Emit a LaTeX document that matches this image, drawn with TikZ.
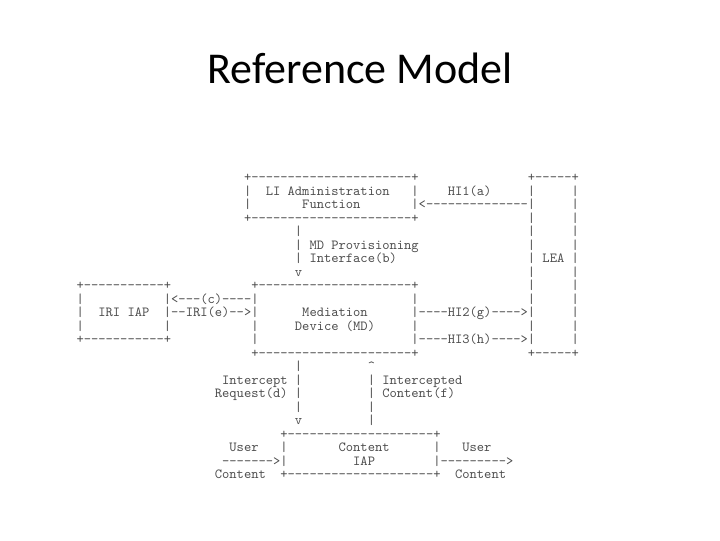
\documentclass[tikz,border=0pt]{standalone}
\usepackage{fontspec}
\setmainfont{Carlito}
\begingroup\obeyspaces%
\gdef\Rzero{                       +----------------------+               +-----+}%
\gdef\Rone{                       |  LI Administration   |    HI1(a)     |     |}%
\gdef\Rtwo{                       |       Function       |<--------------|     |}%
\gdef\Rthree{                       +----------------------+               |     |}%
\gdef\Rfour{                              |                               |     |}%
\gdef\Rfive{                              | MD Provisioning               |     |}%
\gdef\Rsix{                              | Interface(b)                  | LEA |}%
\gdef\Rseven{                              v                               |     |}%
\gdef\Reight{+-----------+           +---------------------+               |     |}%
\gdef\Rnine{|           |<---(c)----|                     |               |     |}%
\gdef\Rten{|  IRI IAP  |--IRI(e)-->|      Mediation      |----HI2(g)---->|     |}%
\gdef\Releven{|           |           |     Device (MD)     |               |     |}%
\gdef\Rtwelve{+-----------+           |                     |----HI3(h)---->|     |}%
\gdef\Rthirteen{                        +---------------------+               +-----+}%
\gdef\Rfourteen{                              |         \textasciicircum}%
\gdef\Rfifteen{                    Intercept |         | Intercepted}%
\gdef\Rsixteen{                   Request(d) |         | Content(f)}%
\gdef\Rseventeen{                              |         |}%
\gdef\Reighteen{                              v         |}%
\gdef\Rnineteen{                            +--------------------+}%
\gdef\Rtwenty{                     User   |       Content      |   User}%
\gdef\Rtwentyone{                    ------->|         IAP        |--------->}%
\gdef\Rtwentytwo{                   Content  +--------------------+  Content}%
\endgroup
\begin{document}
\begin{tikzpicture}[x=0.75pt,y=-0.75pt,
  asc/.style={anchor=base west,inner sep=0pt,text=black!70,
    font=\ttfamily\frenchspacing\fontsize{10.4}{11}\selectfont}]
\useasboundingbox (0,0) rectangle (720,540);
\node[font=\fontsize{33}{36}\selectfont,text=black] (title) at (360,68) {Reference Model};
\foreach \r/\m in {0/\Rzero,1/\Rone,2/\Rtwo,3/\Rthree,4/\Rfour,5/\Rfive,6/\Rsix,7/\Rseven,8/\Reight,9/\Rnine,10/\Rten,11/\Releven,12/\Rtwelve,13/\Rthirteen,14/\Rfourteen,15/\Rfifteen,16/\Rsixteen,17/\Rseventeen,18/\Reighteen,19/\Rnineteen,20/\Rtwenty,21/\Rtwentyone,22/\Rtwentytwo}
  \node[asc] (l\r) at (76.3,{181.5+13.5*\r}) {\null\m};
\end{tikzpicture}
\end{document}
